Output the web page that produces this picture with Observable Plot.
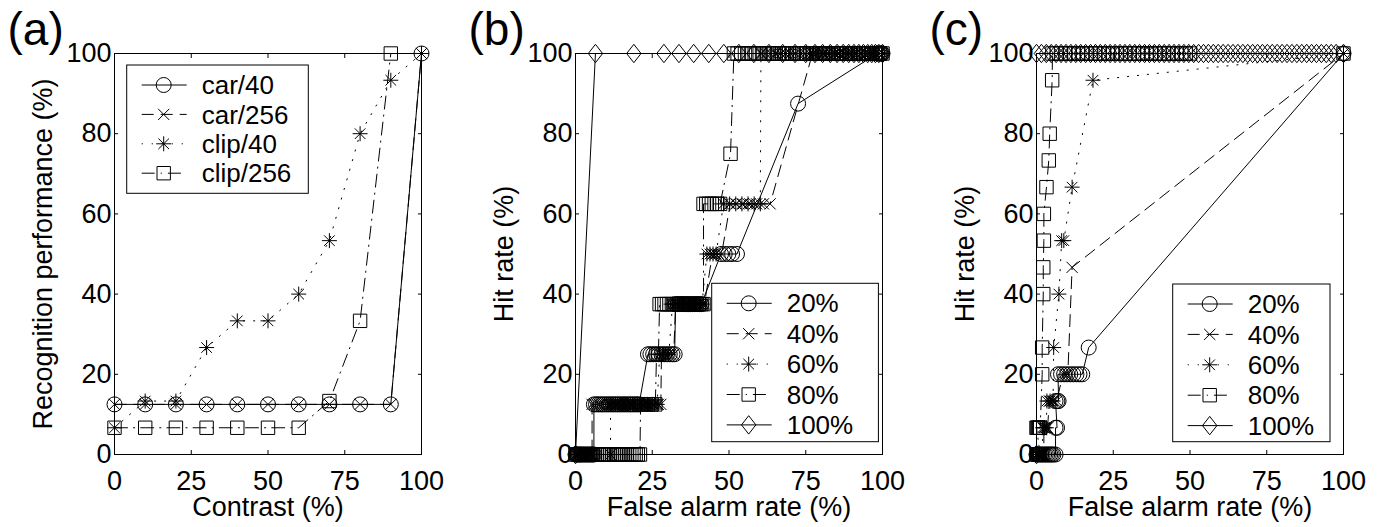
<!DOCTYPE html>
<html>
<head>
<meta charset="utf-8">
<script src="https://cdn.jsdelivr.net/npm/d3@7"></script>
<script src="https://cdn.jsdelivr.net/npm/@observablehq/plot@0.6"></script>
<style>
  html, body { margin: 0; padding: 0; background: #fff; }
  #chart { position: relative; width: 1379px; height: 527px; overflow: hidden; background: #fff; }
  #chart svg { position: absolute; top: 0; }
</style>
</head>
<body>
<div id="chart"></div>
<script>
// ---------- Panel (a): recognition performance vs contrast ----------
const contrast = [0, 10, 20, 30, 40, 50, 60, 70, 80, 90, 100];
const car40   = [12.5, 12.5, 12.5, 12.5, 12.5, 12.5, 12.5, 12.5, 12.5, 12.5, 100];
const car256  = [12.5, 12.5, 12.5, 12.5, 12.5, 12.5, 12.5, 12.5, 12.5, 12.5, 100];
const clip40  = [6.67, 13.33, 13.33, 26.67, 33.33, 33.33, 40, 53.33, 80, 93.33, 100];
const clip256 = [6.67, 6.67, 6.67, 6.67, 6.67, 6.67, 6.67, 13.33, 33.33, 100, null];
const namesA = ["car/40", "car/256", "clip/40", "clip/256"];

// ---------- Panel (b): ROC runs as [hit rate, false alarm rates at that hit rate] ----------
const rocB20 = [
  [0, [0, 0.4, 0.8, 1.2, 1.6, 2.0, 2.5, 3.0, 3.5, 4.0, 4.5, 5.0, 5.5, 6.0]],
  [12.5, [6.0, 6.7, 7.4, 8.1, 8.8, 9.5, 10.2, 10.9, 11.6, 12.3, 13.0, 13.7, 14.4, 15.1, 15.8, 16.5, 17.2, 17.9, 18.6, 19.3, 20.0, 20.7]],
  [25, [23.6, 24.4, 25.3, 26.2, 27.1, 28.0, 28.9, 29.8, 30.7, 31.6, 32.3]],
  [37.5, [32.6, 33.3, 34.0, 34.7, 35.4, 36.1, 36.8, 37.5, 38.2, 38.9, 39.6, 40.3, 41.0]],
  [50, [47.4, 48.6, 49.8, 51.0, 52.6]],
  [87.5, [72.5]],
  [100, [98.3, 98.8, 99.3, 99.7, 100]]
];
const rocB40 = [
  [0, [0, 0.5, 1.0, 1.5, 2.0, 2.5, 3.0, 3.5, 4.0, 4.5, 5.0, 5.4]],
  [12.5, [5.4, 6.2, 7.0, 7.8, 8.6, 9.4, 10.2, 11.0, 11.8, 12.6, 13.4, 14.2, 15.0, 15.8, 16.6, 17.4, 18.2, 19.0, 19.8, 20.6, 21.4, 22.2, 23.0, 23.8, 24.6, 25.4, 26.2, 27.0, 27.8]],
  [25, [28.0, 29.0, 30.0, 31.0, 32.0]],
  [37.5, [32.6, 33.4, 34.2, 35.0, 35.8, 36.6, 37.4, 38.2, 39.0, 39.8, 40.6, 41.4, 42.0]],
  [50, [44.6, 45.6, 46.6, 47.6]],
  [62.5, [50.4, 52.4, 54.6, 56.8, 59.0, 61.2, 63.4]],
  [100, [77.2, 78.4, 79.6, 80.8, 82.0, 83.2, 84.4, 85.6, 86.8, 88.0, 89.2, 90.4, 91.6, 92.8, 94.0, 95.2, 96.4, 97.6, 98.8, 100]]
];
const rocB60 = [
  [0, [0, 0.6, 1.2, 1.8, 2.4, 3.0, 3.6, 4.2, 4.8, 5.4, 11.4]],
  [12.5, [11.4, 12.2, 13.0, 13.8, 14.6, 15.4, 16.2, 17.0, 17.8, 18.6, 19.4, 20.2, 21.0, 21.8, 22.6, 23.4, 24.2, 25.0, 25.8, 26.6]],
  [25, [27.4, 28.4, 29.4, 30.4]],
  [37.5, [31.6, 32.4, 33.2, 34.0, 34.8, 35.6, 36.4, 37.2, 38.0, 38.8, 39.6, 40.4, 41.2]],
  [50, [42.8, 43.8, 44.8, 45.8]],
  [62.5, [48.2, 50.2, 52.2, 54.2, 56.2, 58.2, 60.2]],
  [100, [60.4, 62.0, 63.6, 65.2, 66.8, 68.4, 70.0, 71.6, 73.2, 74.8, 76.2, 77.6, 79.0, 80.4, 81.8, 83.2, 84.6, 86.0, 87.4, 88.8, 90.2, 91.6, 93.0, 94.4, 95.8, 97.2, 98.6, 100]]
];
const rocB80 = [
  [0, [0, 0.7, 1.4, 2.1, 2.8, 3.5, 4.2, 4.9, 5.6, 6.3, 7.0, 7.7, 8.4, 9.1, 9.8, 10.5, 11.2, 11.9, 12.6, 13.3, 14.0, 14.7, 15.4, 16.1, 16.8, 17.5, 18.2, 18.9, 19.6, 20.3, 21.0]],
  [12.5, [21.2, 22.4, 23.6, 24.8, 26.0]],
  [25, [26.4, 27.0]],
  [37.5, [27.4, 28.2, 29.0, 29.8, 30.6, 31.4, 32.2, 33.0, 33.8, 34.6, 35.4, 36.2, 37.0, 37.8, 38.6, 39.4, 40.2, 41.0, 41.7]],
  [62.5, [41.7, 42.6, 43.5, 44.4, 45.3, 46.2, 47.1]],
  [75, [50.5]],
  [100, [51.6, 52.8, 54.0, 55.2, 56.4, 57.6, 58.8, 60.0, 61.2, 62.4, 63.6, 64.8, 66.0, 67.2, 68.4, 69.6, 70.8, 72.0, 73.2, 74.4, 75.4, 76.4, 77.4, 78.4, 79.4, 80.4, 81.3, 82.2, 83.1, 84.0, 84.9, 85.8, 86.7, 87.6, 88.5, 89.4, 90.3, 91.2, 92.1, 93.0, 93.9, 94.8, 95.7, 96.6, 97.5, 98.4, 99.2, 100]]
];
const rocB100 = [
  [0, [0]],
  [100, [6.5, 19.0, 28.8, 33.7, 38.5, 43.4, 48.3, 53.2, 58.1, 63.0, 67.5, 71.5, 75.0, 78.0, 80.5, 83.0, 85.2, 87.2, 89.0, 90.7, 92.3, 93.8, 95.2, 96.5, 97.7, 98.8, 100]]
];

// ---------- Panel (c): ROC runs ----------
const rocC20 = [
  [0, [0, 0.5, 1.0, 1.5, 2.0, 2.5, 3.0, 3.5, 4.0, 4.5, 5.0, 5.5, 6.2]],
  [6.67, [6.2, 6.7]],
  [13.33, [6.2, 6.8, 7.2]],
  [20, [7.0, 8.0, 9.0, 10.0, 11.0, 12.0, 13.0, 14.0, 14.9]],
  [26.67, [17.0]],
  [100, [100]]
];
const rocC40 = [
  [0, [0, 0.4, 0.8, 1.2, 1.6, 2.0, 2.4]],
  [6.67, [2.4, 3.0, 3.6]],
  [13.33, [4.2, 5.0, 5.8, 6.6]],
  [20, [8.6, 9.4, 10.2]],
  [46.67, [11.6]],
  [100, [100]]
];
const rocC60 = [
  [0, [0, 0.5, 1.0, 1.5, 2.0]],
  [6.67, [2.0, 2.6, 3.2]],
  [13.33, [3.4, 4.4, 5.4]],
  [26.67, [5.6]],
  [40, [7.3]],
  [53.33, [8.2, 8.9]],
  [66.67, [11.6]],
  [93.33, [18.4]],
  [100, [100]]
];
const rocC80 = [
  [0, [0, 0.4, 0.8, 1.2]],
  [6.67, [0, 0.3, 0.6, 0.9, 1.2]],
  [20, [1.85]],
  [26.67, [1.85]],
  [40, [2.2]],
  [46.67, [2.2]],
  [53.33, [2.4]],
  [60, [2.4]],
  [66.67, [3.25]],
  [73.33, [4.0]],
  [80, [4.3]],
  [93.33, [5.1]],
  [100, [5.2, 6.6, 8.0, 9.4, 10.8, 12.2, 13.6, 15.0, 16.4, 17.8, 19.2, 20.6, 22.0, 23.4, 24.8, 26.2, 27.6, 29.0, 30.4, 31.8, 33.2, 34.6, 36.0, 37.4, 38.8, 40.2, 41.6, 43.0, 44.4, 45.8, 47.2, 48.6, 50.0, 100]]
];
const rocC100 = [
  [0, [0]],
  [100, [0, 1.6, 3.2, 4.8, 6.4, 8.0, 9.6, 11.2, 12.8, 14.4, 16.0, 17.6, 19.2, 20.8, 22.4, 24.0, 25.6, 27.2, 28.8, 30.4, 32.0, 33.6, 35.2, 36.8, 38.4, 40.0, 41.6, 43.2, 44.8, 46.4, 48.0, 49.6, 51.2, 52.8, 54.4, 56.0, 57.6, 59.2, 60.8, 62.4, 64.0, 65.6, 67.2, 68.8, 70.4, 72.0, 73.6, 75.2, 76.8, 78.4, 80.0, 81.6, 83.2, 84.8, 86.4, 88.0, 89.6, 91.2, 92.8, 94.4, 96.0, 97.6, 100]]
];
const namesROC = ["20%", "40%", "60%", "80%", "100%"];

// Axis ticks and labels
const xTicks = [0, 25, 50, 75, 100];
const yTicks = [0, 20, 40, 60, 80, 100];
const panelTags = ["(a)", "(b)", "(c)"];
const xLabels = ["Contrast (%)", "False alarm rate (%)", "False alarm rate (%)"];
const yLabels = ["Recognition performance (%)", "Hit rate (%)", "Hit rate (%)"];

// ---------- Marker symbols (open, MATLAB-like) ----------
const R = 7.5;
function symbolOf(drawFn) {
  return { draw(ctx, size) { const k = Math.sqrt(size / Math.PI) / R; drawFn(ctx, k); } };
}
const circleSym = symbolOf((c, k) => { const r = 7.5 * k; c.moveTo(r, 0); c.arc(0, 0, r, 0, 2 * Math.PI); });
const timesSym = symbolOf((c, k) => { const a = 5.6 * k; c.moveTo(-a, -a); c.lineTo(a, a); c.moveTo(-a, a); c.lineTo(a, -a); });
const starSym = symbolOf((c, k) => {
  const a = 7.5 * k, b = 5.3 * k;
  c.moveTo(-a, 0); c.lineTo(a, 0); c.moveTo(0, -a); c.lineTo(0, a);
  c.moveTo(-b, -b); c.lineTo(b, b); c.moveTo(-b, b); c.lineTo(b, -b);
});
const squareSym = symbolOf((c, k) => { const a = 6.7 * k; c.moveTo(-a, -a); c.lineTo(a, -a); c.lineTo(a, a); c.lineTo(-a, a); c.closePath(); });
const diamondSym = symbolOf((c, k) => { const w = 7.2 * k, h = 9.2 * k; c.moveTo(0, -h); c.lineTo(w, 0); c.lineTo(0, h); c.lineTo(-w, 0); c.closePath(); });

const SOLID = null, DASHED = "12,7", DOTTED = "1.2,8.8", DASHDOT = "13,6,1.2,6";

function fromColumns(xs, ys) {
  const pts = [];
  xs.forEach((x, i) => { if (ys[i] != null) pts.push({x, y: ys[i]}); });
  return pts;
}
function fromRuns(runs) {
  const pts = [];
  for (const [hit, fars] of runs) for (const f of fars) pts.push({x: f, y: hit});
  return pts;
}

const seriesA = [
  {name: namesA[0], points: fromColumns(contrast, car40), symbol: circleSym, dash: SOLID},
  {name: namesA[1], points: fromColumns(contrast, car256), symbol: timesSym, dash: DASHED},
  {name: namesA[2], points: fromColumns(contrast, clip40), symbol: starSym, dash: DOTTED},
  {name: namesA[3], points: fromColumns(contrast, clip256), symbol: squareSym, dash: DASHDOT}
];
const rocStyles = [[circleSym, SOLID], [timesSym, DASHED], [starSym, DOTTED], [squareSym, DASHDOT], [diamondSym, SOLID]];
const seriesB = [rocB20, rocB40, rocB60, rocB80, rocB100].map((runs, i) => ({name: namesROC[i], points: fromRuns(runs), symbol: rocStyles[i][0], dash: rocStyles[i][1]}));
const seriesC = [rocC20, rocC40, rocC60, rocC80, rocC100].map((runs, i) => ({name: namesROC[i], points: fromRuns(runs), symbol: rocStyles[i][0], dash: rocStyles[i][1]}));

const FONT = '"Liberation Sans", Arial, Helvetica, sans-serif';
const PANEL_W = 461, PANEL_H = 527;
const M = {left: 114, right: 40, top: 53, bottom: 73};
const TICK_FONT = 27, LABEL_FONT = 27, LEGEND_FONT = 26, TAG_FONT = 46;

function panel(i, series, legendBox) {
  const marks = [
    Plot.frame({stroke: "black", strokeWidth: 1}),
    Plot.axisX(xTicks, {anchor: "bottom", tickSize: -4, tickPadding: 20, label: null, fontSize: TICK_FONT}),
    Plot.axisX(xTicks, {anchor: "top", tickSize: -4, tickFormat: () => "", label: null}),
    Plot.axisY(yTicks, {anchor: "left", tickSize: -4, tickPadding: 7, label: null, fontSize: TICK_FONT}),
    Plot.axisY(yTicks, {anchor: "right", tickSize: -4, tickFormat: () => "", label: null})
  ];
  for (const s of series) {
    marks.push(Plot.line(s.points, {x: "x", y: "y", stroke: "black", strokeWidth: 1, strokeDasharray: s.dash}));
    marks.push(Plot.dot(s.points, {x: "x", y: "y", r: R, symbol: s.symbol, stroke: "black", fill: "none", strokeWidth: 1}));
  }
  marks.push(
    Plot.text([xLabels[i]], {text: d => d, frameAnchor: "bottom", dy: 61, lineAnchor: "bottom", textAnchor: "middle", fontSize: LABEL_FONT}),
    Plot.text([yLabels[i]], {text: d => d, frameAnchor: "left", rotate: -90, dx: -63, lineAnchor: "bottom", textAnchor: "middle", fontSize: LABEL_FONT}),
    Plot.text([panelTags[i]], {text: d => d, frameAnchor: "top-left", dx: -107, dy: -9, lineAnchor: "bottom", textAnchor: "start", fontSize: TAG_FONT})
  );
  const svg = Plot.plot({
    width: PANEL_W, height: PANEL_H,
    marginLeft: M.left, marginRight: M.right, marginTop: M.top, marginBottom: M.bottom,
    x: {domain: [0, 100]},
    y: {domain: [0, 100]},
    style: {fontFamily: FONT, fontSize: "26px", color: "black", background: "transparent", overflow: "visible"},
    marks
  });
  drawLegend(svg, legendBox, series);
  svg.style.left = `${i * PANEL_W}px`;
  return svg;
}

// Boxed legend: a line sample with its marker, then the series name
function drawLegend(svg, box, series) {
  const g = d3.select(svg).append("g")
    .attr("font-family", FONT).attr("font-size", LEGEND_FONT).attr("text-anchor", "start");
  g.append("rect")
    .attr("x", box.left).attr("y", box.top).attr("width", box.width).attr("height", box.height)
    .attr("fill", "white").attr("stroke", "black").attr("stroke-width", 1);
  series.forEach((s, j) => {
    const y = box.top + box.rowTop + j * box.rowGap;
    g.append("line")
      .attr("x1", box.left + 15).attr("x2", box.left + 60).attr("y1", y).attr("y2", y)
      .attr("stroke", "black").attr("stroke-width", 1)
      .attr("stroke-dasharray", s.dash);
    g.append("path")
      .attr("transform", `translate(${box.left + 37},${y})`)
      .attr("d", d3.symbol(s.symbol, Math.PI * R * R)())
      .attr("fill", "none").attr("stroke", "black").attr("stroke-width", 1);
    g.append("text")
      .attr("x", box.left + 75).attr("y", y).attr("dy", "0.35em")
      .attr("fill", "black").attr("text-anchor", "start")
      .text(s.name);
  });
}

const chart = document.getElementById("chart");
chart.appendChild(panel(0, seriesA, {left: M.left + 12.7, top: 65, width: 181.6, height: 128.3, rowTop: 20, rowGap: 29.4}));
chart.appendChild(panel(1, seriesB, {left: M.left + 136.7, top: 283.3, width: 166.7, height: 158.4, rowTop: 20, rowGap: 30.4}));
chart.appendChild(panel(2, seriesC, {left: M.left + 136.7, top: 284, width: 157.3, height: 157.7, rowTop: 20, rowGap: 30.4}));
</script>
</body>
</html>
